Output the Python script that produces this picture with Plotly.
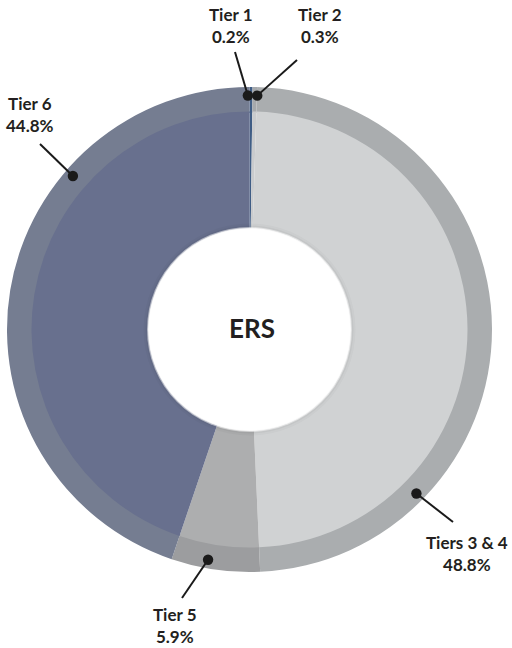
import math
import plotly.graph_objects as go

# Tier shares of the ERS portfolio (percent)
tiers = ["Tier 1", "Tier 2", "Tiers 3 & 4", "Tier 5", "Tier 6"]
shares = [0.2, 0.3, 48.8, 5.9, 44.8]

# Fill (inner disc) and rim (outer band) colours per tier
fill_colors = ["#3F5D85", "#C9CBCD", "#D0D2D3", "#ADAEAF", "#68708E"]
rim_colors = ["#3F5D85", "#A6A9AC", "#AAADAF", "#9C9D9F", "#757D91"]

# Callout placement: angle (deg, clockwise from 12 o'clock) of the dot on the rim,
# and the pixel position of the label block.
callout_angle = [359.6, 1.9, 134.5, 190.2, 311.0]
label_xy = [(231, 26), (320, 26), (467, 553), (175, 625), (30, 114)]
line_end_xy = [(235, 52), (297, 60), (453, 522), (182, 598), (40, 144)]

W, H = 512, 648
CX, CY = 249.5, 329.5        # pie centre, px
R_OUT, R_IN, R_HOLE = 242.5, 218.0, 101.0
R_DOT = 234.0


def px(x):
    return x / W


def py(y):
    return 1 - y / H


def domain(r):
    return dict(x=[px(CX - r), px(CX + r)], y=[py(CY + r), py(CY - r)])


fig = go.Figure()

# Outer rim band
fig.add_trace(go.Pie(
    labels=tiers, values=shares, sort=False, direction="clockwise", rotation=0,
    hole=(R_IN - 1.5) / R_OUT, domain=domain(R_OUT),
    marker=dict(colors=rim_colors, line=dict(width=0)),
    textinfo="none", hoverinfo="label+percent", showlegend=False,
))

# Inner fill disc with the centre hole
fig.add_trace(go.Pie(
    labels=tiers, values=shares, sort=False, direction="clockwise", rotation=0,
    hole=R_HOLE / R_IN, domain=domain(R_IN),
    marker=dict(colors=fill_colors, line=dict(width=0)),
    textinfo="none", hoverinfo="label+percent", showlegend=False,
))

shapes = []


def circle(r, fill, cx=CX, cy=CY):
    return dict(type="circle", xref="paper", yref="paper",
                x0=px(cx - r), x1=px(cx + r), y0=py(cy + r), y1=py(cy - r),
                fillcolor=fill, line=dict(width=0), layer="above")


# Soft glow around the white centre
for r, a in [(106, 0.025), (104, 0.035), (102.5, 0.04)]:
    shapes.append(circle(r, f"rgba(0,0,0,{a})"))
for r, a in [(102.5, 0.55), (101.5, 0.8), (100.5, 1.0)]:
    shapes.append(circle(r, f"rgba(255,255,255,{a})"))

annotations = []
for name, val, ang, (lx, ly), (ex, ey) in zip(tiers, shares, callout_angle, label_xy, line_end_xy):
    t = math.radians(ang)
    dx = CX + R_DOT * math.sin(t)
    dy = CY - R_DOT * math.cos(t)
    shapes.append(dict(type="line", xref="paper", yref="paper",
                       x0=px(ex), y0=py(ey), x1=px(dx), y1=py(dy),
                       line=dict(color="#1A1A1A", width=2), layer="above"))
    shapes.append(circle(5.2, "#1A1A1A", dx, dy))
    annotations.append(dict(
        x=px(lx), y=py(ly), xref="paper", yref="paper", showarrow=False,
        text=f"<b>{name}</b><br><b>{val:.1f}%</b>", align="center",
        xanchor="center", yanchor="middle",
        font=dict(family="Lato, 'Open Sans', sans-serif", size=17, color="#231F20"),
    ))

annotations.append(dict(
    x=px(251.5), y=py(328), xref="paper", yref="paper", showarrow=False,
    text="<b>ERS</b>", xanchor="center", yanchor="middle",
    font=dict(family="Lato, 'Open Sans', sans-serif", size=26, color="#231F20"),
))

fig.update_layout(
    width=W, height=H, margin=dict(l=0, r=0, t=0, b=0),
    paper_bgcolor="white", plot_bgcolor="white",
    shapes=shapes, annotations=annotations, showlegend=False,
)

fig.write_html("out.html")
